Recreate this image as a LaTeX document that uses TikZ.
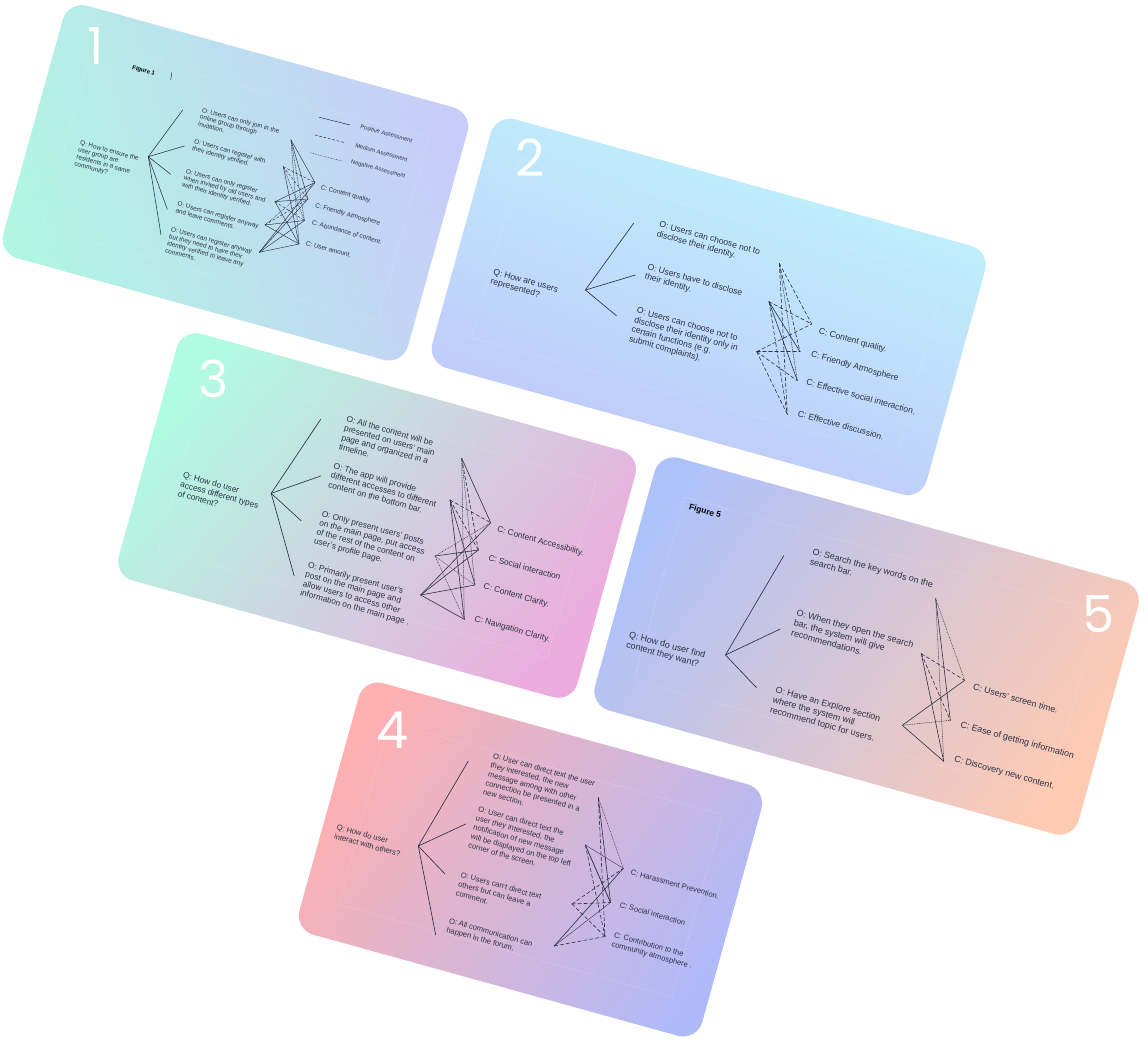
\documentclass[tikz,border=0pt]{standalone}
\usepackage{fontspec}
\setmainfont{Liberation Sans}
\newfontfamily\numfont{Poppins}
\definecolor{ink}{RGB}{44,49,68}
\definecolor{mintA}{RGB}{176,246,226}
\definecolor{lavA}{RGB}{200,204,250}
\definecolor{cyanB}{RGB}{190,247,252}
\definecolor{lavB}{RGB}{192,195,250}
\definecolor{mintC}{RGB}{176,251,226}
\definecolor{pinkC}{RGB}{236,172,222}
\definecolor{salD}{RGB}{255,176,176}
\definecolor{periD}{RGB}{176,186,250}
\definecolor{periE}{RGB}{174,194,250}
\definecolor{peachE}{RGB}{255,202,178}
\newcommand\qcard[7]{%
  \begin{scope}[shift={(#1,#2)},rotate=-15.5]
    \shade[rounded corners=20pt,top color=#5,bottom color=#6,shading angle=#7] (-#3/2,-#4/2) rectangle (#3/2,#4/2);
    \draw[white,opacity=.35,line width=.4pt,dash pattern=on 2pt off 2pt] (-#3/2+36,-#4/2+36) rectangle (#3/2-36,#4/2-36);
  \end{scope}}
\tikzset{
  lnk/.style={draw=ink,line width=.6pt},
  lpos/.style={lnk},
  lmed/.style={lnk,dash pattern=on 3.5pt off 2.5pt},
  lneg/.style={lnk,line width=.5pt,dash pattern=on .6pt off 1.1pt},
  brch/.style={draw=ink,line width=.65pt},
  lbl/.style={anchor=north west,inner sep=0pt,align=left,rotate=-15.5,text=ink},
  tA/.style={lbl,font=\fontsize{6.4}{7.2}\selectfont},
  tAs/.style={lbl,font=\fontsize{5.8}{6.5}\selectfont},
  tB/.style={lbl,font=\fontsize{8.6}{9.8}\selectfont},
  tC/.style={lbl,font=\fontsize{8.35}{9.5}\selectfont},
  tD/.style={lbl,font=\fontsize{7.6}{9.4}\selectfont},
  tE/.style={lbl,font=\fontsize{8.9}{10.4}\selectfont},
  fig/.style={lbl,text=black,font=\bfseries},
  num/.style={anchor=north west,inner sep=0pt,text=white,font=\numfont\fontsize{51}{51}\selectfont},
}
\begin{document}
\begin{tikzpicture}[x=1pt,y=-1pt,line cap=round]
\useasboundingbox (0,0) rectangle (1148,1043);
% ---------------- cards
\qcard{235.4}{182.8}{420}{262}{lavA}{mintA}{-75}
\qcard{708.7}{306.9}{513}{258}{cyanB}{lavB}{-20}
\qcard{377.1}{515.5}{476}{256}{mintC}{pinkC}{50}
\qcard{530.5}{859.5}{418}{261}{salD}{periD}{55}
\qcard{866.6}{646}{502}{262}{periE}{peachE}{55}

% ---------------- card 1
\node[num] (n1) at (87,27) {1};
\node[fig,font=\bfseries\fontsize{6}{7}\selectfont] (f1) at (133,65) {Figure 1};
\coordinate (tk1a) at (171.7,72.7); \coordinate (tk1b) at (170.7,80);
\draw[ink,line width=.5pt] (tk1a) -- (tk1b);
\node[tA] (q1) at (81,140) {Q: How to ensure the\\user group are\\residents in a same\\community?};
\node[tA] (o11) at (202.7,107.3) {O: Users can only join in the\\online group through\\invitation.};
\node[tA] (o12) at (195,138.7) {O: Users can register with\\their identity verified.};
\node[tA] (o13) at (186.7,168.3) {O: Users can only register\\when invited by old users and\\with their identity verified.};
\node[tA] (o14) at (178.3,201) {O: Users can register anyway\\and leave comments.};
\node[tA] (o15) at (171.7,226.7) {O: Users can register anyway\\but they need to have their\\identity verified to leave any\\comments.};
\node[tA] (c11) at (321.7,184.3) {C: Content quality.};
\node[tA] (c12) at (316,202.7) {C: Friendly Atmosphere};
\node[tA] (c13) at (312.7,220) {C: Abundance of content.};
\node[tA] (c14) at (306.7,240.7) {C: User amount.};
\node[tAs] (lg1) at (361,124) {Positive Assessment};
\node[tAs] (lg2) at (356,143) {Medium Assessment};
\node[tAs] (lg3) at (351.7,159) {Negative Assessment};
\coordinate (lga) at (319.3,117.3); \coordinate (lgb) at (350,125);
\coordinate (lgc) at (315,135); \coordinate (lgd) at (345,142.7);
\coordinate (lge) at (310,152.7); \coordinate (lgf) at (341.7,161);
\begin{scope}[line width=.5pt]
\draw[lpos,line width=.5pt] (lga) -- (lgb);
\draw[lmed,line width=.5pt,dash pattern=on 2.5pt off 2pt] (lgc) -- (lgd);
\draw[lneg,line width=.4pt] (lge) -- (lgf);
\end{scope}
\coordinate (h1) at (148.3,156.7);
\coordinate (a11) at (182.7,110); \coordinate (a12) at (184.3,146);
\coordinate (a13) at (170.7,174.3); \coordinate (a14) at (167.3,209.3);
\coordinate (a15) at (161,235);
\foreach \e in {a11,a12,a13,a14,a15} \draw[brch,line width=.55pt] (h1) -- (\e);
\coordinate (p11) at (291,140); \coordinate (p12) at (283.3,166.7);
\coordinate (p13) at (275,201.7); \coordinate (p14) at (265,225);
\coordinate (p15) at (259.3,252.3);
\coordinate (k11) at (315,182.5); \coordinate (k12) at (308,199);
\coordinate (k13) at (304.5,220.5); \coordinate (k14) at (299,244);
\tikzset{lnk/.append style={line width=.45pt},lmed/.append style={dash pattern=on 2.5pt off 2pt}}
\draw[lpos] (p11) -- (k11); \draw[lpos] (p11) -- (k12); \draw[lneg] (p11) -- (k13); \draw[lneg] (p11) -- (k14);
\draw[lmed] (p12) -- (k11); \draw[lmed] (p12) -- (k12); \draw[lneg] (p12) -- (k13); \draw[lpos] (p12) -- (k14);
\draw[lpos] (p13) -- (k11); \draw[lpos] (p13) -- (k12); \draw[lmed] (p13) -- (k13); \draw[lpos] (p13) -- (k14);
\draw[lneg] (p14) -- (k11); \draw[lmed] (p14) -- (k12); \draw[lpos] (p14) -- (k13); \draw[lpos] (p14) -- (k14);
\draw[lpos] (p15) -- (k11); \draw[lpos] (p15) -- (k12); \draw[lpos] (p15) -- (k13); \draw[lpos] (p15) -- (k14);
\tikzset{lnk/.style={draw=ink,line width=.6pt},lmed/.style={lnk,dash pattern=on 3.5pt off 2.5pt}}

% ---------------- card 2
\node[num] (n2) at (515.7,138.3) {2};
\node[tB] (q2) at (494.3,268.3) {Q: How are users\\represented?};
\node[tB] (o21) at (660.4,220.7) {O: Users can choose not to\\disclose their identity.};
\node[tB] (o22) at (648.6,263.3) {O: Users have to disclose\\their identity.};
\node[tB] (o23) at (637.9,306.7) {O: Users can choose not to\\disclose their identity only in\\certain functions (e.g.\\submit complaints).};
\node[tB] (c21) at (820,327.3) {C: Content quality.};
\node[tB] (c22) at (812.1,350.7) {C: Friendly Atmosphere};
\node[tB] (c23) at (807.5,378.3) {C: Effective social interaction.};
\node[tB] (c24) at (798.9,410) {C: Effective discussion.};
\coordinate (h2) at (585.4,290);
\coordinate (a21) at (633.6,223.3); \coordinate (a22) at (635.4,275); \coordinate (a23) at (616.4,315.7);
\foreach \e in {a21,a22,a23} \draw[brch] (h2) -- (\e);
\coordinate (p21) at (779.3,263.3); \coordinate (p22) at (769,301.7); \coordinate (p23) at (756.7,351.7);
\coordinate (k21) at (811.7,324); \coordinate (k22) at (800,351.7);
\coordinate (k23) at (797.3,380.7); \coordinate (k24) at (787.3,414.3);
\draw[lmed] (p21) -- (k21); \draw[lmed] (p21) -- (k22); \draw[lneg] (p21) -- (k23); \draw[lmed] (p21) -- (k24);
\draw[lmed] (p22) -- (k21); \draw[lpos] (p22) -- (k22); \draw[lpos] (p22) -- (k23); \draw[lmed] (p22) -- (k24);
\draw[lmed] (p23) -- (k21); \draw[lmed] (p23) -- (k22); \draw[lmed] (p23) -- (k23); \draw[lmed] (p23) -- (k24);

% ---------------- card 3
\node[num] (n3) at (197.8,360) {3};
\node[tC] (q3) at (184,471.7) {Q: How do user\\access different types\\of content?};
\node[tC] (o31) at (347.6,415.7) {O: All the content will be\\presented on users' main\\page and organized in a\\timeline.};
\node[tC] (o32) at (334.5,462.7) {O: The app will provide\\different accesses to different\\content on the bottom bar.};
\node[tC] (o33) at (322.8,510) {O: Only present users' posts\\on the main page, put access\\of the rest of the content on\\user's profile page.};
\node[tC] (o34) at (309,561.7) {O: Primarily present user's\\post on the main page and\\allow users to access other\\information on the main page .};
\node[tC] (c31) at (498.4,525.7) {C: Content Accessibility.};
\node[tC] (c32) at (489.5,554.3) {C: Social interaction};
\node[tC] (c33) at (484.7,582.7) {C: Content Clarity.};
\node[tC] (c34) at (475.7,615) {C: Navigation Clarity.};
\coordinate (h3) at (271.2,493.3);
\coordinate (a31) at (320.7,419.3); \coordinate (a32) at (320.7,476);
\coordinate (a33) at (301.1,520.7); \coordinate (a34) at (294.2,576);
\foreach \e in {a31,a32,a33,a34} \draw[brch] (h3) -- (\e);
\coordinate (p31) at (461.7,458.3); \coordinate (p32) at (450,500);
\coordinate (p33) at (435,556); \coordinate (p34) at (420.7,595);
\coordinate (k31) at (490.7,522.7); \coordinate (k32) at (478.3,550);
\coordinate (k33) at (475,585); \coordinate (k34) at (464.3,619.3);
\draw[lpos] (p31) -- (k31); \draw[lmed] (p31) -- (k32); \draw[lneg] (p31) -- (k33); \draw[lneg] (p31) -- (k34);
\draw[lmed] (p32) -- (k31); \draw[lmed] (p32) -- (k32); \draw[lpos] (p32) -- (k33); \draw[lpos] (p32) -- (k34);
\draw[lneg] (p33) -- (k31); \draw[lpos] (p33) -- (k32); \draw[lneg] (p33) -- (k33); \draw[lneg] (p33) -- (k34);
\draw[lpos] (p34) -- (k31); \draw[lpos] (p34) -- (k32); \draw[lpos] (p34) -- (k33); \draw[lpos] (p34) -- (k34);

% ---------------- card 4
\node[num] (n4) at (376.7,711.7) {4};
\node[tD] (q4) at (337.7,824) {Q: How do user\\interact with others?};
\node[tD] (o41) at (494,752.7) {O: User can direct text the user\\they interested, the new\\message among with other\\connection be presented in a\\new section.};
\node[tD] (o42) at (479.3,806) {O: User can direct text the\\user they interested, the\\notification of new message\\will be displayed on the top left\\corner of the screen.};
\node[tD] (o43) at (461.7,871.7) {O: Users can't direct text\\others but can leave a\\comment.};
\node[tD] (o44) at (450,917.7) {O: All communication can\\happen in the forum.};
\node[tD] (c41) at (631.7,869) {C: Harassment Prevention.};
\node[tD] (c42) at (620.7,901.7) {C: Social interaction};
\node[tD] (c43) at (615,931.7) {C: Contribution to the\\community atmosphere .};
\coordinate (h4) at (418.3,846);
\coordinate (a41) at (468.3,761); \coordinate (a42) at (465.7,824);
\coordinate (a43) at (445,874); \coordinate (a44) at (435.7,935);
\foreach \e in {a41,a42,a43,a44} \draw[brch] (h4) -- (\e);
\coordinate (p41) at (598.3,797.5); \coordinate (p42) at (585.3,845);
\coordinate (p43) at (572,904); \coordinate (p44) at (554.2,946);
\coordinate (k41) at (623.3,868.3); \coordinate (k42) at (610.5,902.5); \coordinate (k43) at (605,936.5);
\draw[lneg] (p41) -- (k41); \draw[lpos] (p41) -- (k42); \draw[lmed] (p41) -- (k43);
\draw[lpos,line width=.35pt] (p42) -- (k41); \draw[lpos,line width=.75pt] (p42) -- (k42); \draw[lmed] (p42) -- (k43);
\draw[lmed] (p43) -- (k41); \draw[lmed] (p43) -- (k42); \draw[lmed] (p43) -- (k43);
\draw[lpos] (p44) -- (k41); \draw[lpos,line width=.35pt] (p44) -- (k42); \draw[lmed] (p44) -- (k43);

% ---------------- card 5
\node[num] (n5) at (1081.8,595) {5};
\node[fig,font=\bfseries\fontsize{8.4}{9}\selectfont] (f5) at (690.2,503.3) {Figure 5};
\node[tE] (q5) at (630.3,630.7) {Q: How do user find\\content they want?};
\node[tE] (o51) at (813.7,547.7) {O: Search the key words on the\\search bar.};
\node[tE] (o52) at (797.8,609) {O: When they open the search\\bar, the system will give\\recommendations.};
\node[tE] (o53) at (776.7,686) {O: Have an Explore section\\where the system will\\recommend topic for users.};
\node[tE] (c51) at (974.2,683.3) {C: Users' screen time.};
\node[tE] (c52) at (961.8,720.7) {C: Ease of getting information};
\node[tE] (c53) at (955.5,755) {C: Discovery new content.};
\coordinate (h5) at (725.5,655);
\coordinate (a51) at (783.7,555.7); \coordinate (a52) at (780.2,629); \coordinate (a53) at (756.5,687.7);
\foreach \e in {a51,a52,a53} \draw[brch] (h5) -- (\e);
\coordinate (p51) at (935.7,598.7); \coordinate (p52) at (921.3,653.7); \coordinate (p53) at (902.3,725.3);
\coordinate (k51) at (964.7,680.3); \coordinate (k52) at (950.3,720.3); \coordinate (k53) at (943.7,761.3);
\draw[lneg] (p51) -- (k51); \draw[lpos] (p51) -- (k52); \draw[lneg] (p51) -- (k53);
\draw[lmed] (p52) -- (k51); \draw[lmed] (p52) -- (k52); \draw[lpos] (p52) -- (k53);
\draw[lpos] (p53) -- (k51); \draw[lneg] (p53) -- (k52); \draw[lpos] (p53) -- (k53);
\end{tikzpicture}
\end{document}
